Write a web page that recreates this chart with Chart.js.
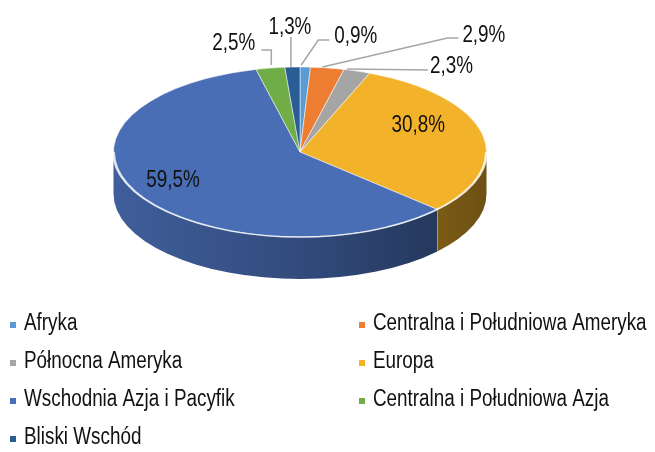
<!DOCTYPE html>
<html>
<head>
<meta charset="utf-8">
<script src="https://cdn.jsdelivr.net/npm/chart.js@4.4.0/dist/chart.umd.min.js"></script>
<style>
  html, body { margin: 0; padding: 0; background: #fff; }
  canvas { display: block; }
</style>
</head>
<body>
<canvas id="pie" width="655" height="452"></canvas>
<script>
// Data
const regions = ['Afryka', 'Centralna i Południowa Ameryka', 'Północna Ameryka', 'Europa',
  'Wschodnia Azja i Pacyfik', 'Centralna i Południowa Azja', 'Bliski Wschód'];
const shares = [0.9, 2.9, 2.3, 30.8, 59.5, 2.5, 1.3];
const sliceColors = ['#5B9BD5', '#ED7D31', '#A5A5A5', '#F2B22A', '#4A6EB6', '#70AD47', '#2A5C96'];

// Label layout, relative to the rim point of each slice (screen px)
const labelLayout = [
  { line: [[-4, -2], [13, -27], [24, -27]], text: [29, -24], align: 'left' },
  { line: [[-5, -1], [120, -30], [131, -30]], text: [135, -26], align: 'left' },
  { line: [[-10, -2], [71, -1]], text: [73, 2], align: 'left' },
  { inside: 0.65, text: [0, -8], align: 'center' },
  { inside: 0.79, text: [0, 1], align: 'center' },
  { line: [[1, -3], [1, -18], [-9, -18]], text: [-15, -18], align: 'right' },
  { line: [[-1.5, 0], [-1.5, -30]], text: [-2.5, -33], align: 'center' }
];

const FONT = '23px "Liberation Sans", Arial, sans-serif';
const NARROW = 0.82;

function fmt(v) {
  return v.toFixed(1).replace('.', ',') + '%';
}

function shade(hex, f) {
  const n = parseInt(hex.slice(1), 16);
  const r = Math.round(((n >> 16) & 255) * f);
  const g = Math.round(((n >> 8) & 255) * f);
  const b = Math.round((n & 255) * f);
  return `rgb(${r},${g},${b})`;
}

function narrowText(ctx, text, x, y, align) {
  ctx.save();
  ctx.translate(x, y);
  ctx.scale(NARROW, 1);
  ctx.font = FONT;
  ctx.textAlign = align;
  ctx.textBaseline = 'alphabetic';
  ctx.fillStyle = '#111';
  ctx.fillText(text, 0, 0);
  ctx.restore();
}

// 3D tilt: squash the pie vertically and add a side wall
const tilt = { cx: 300, cy: 152, ry: 85, depth: 42 };

function geom(chart) {
  const a = chart.getDatasetMeta(0).data[0];
  return { x: a.x, y: a.y, r: a.outerRadius, k: tilt.ry / a.outerRadius };
}

const pie3d = {
  id: 'pie3d',
  beforeDatasetsDraw(chart) {
    const ctx = chart.ctx;
    const g = geom(chart);
    const dz = tilt.depth / g.k;
    ctx.save();
    ctx.translate(tilt.cx, tilt.cy);
    ctx.scale(1, g.k);
    ctx.translate(-g.x, -g.y);

    const arcs = chart.getDatasetMeta(0).data;
    arcs.forEach((arc, i) => {
      const a = Math.max(arc.startAngle, 0);
      const b = Math.min(arc.endAngle, Math.PI);
      if (b <= a) return;
      const grad = ctx.createLinearGradient(g.x - g.r, 0, g.x + g.r, 0);
      grad.addColorStop(0, shade(sliceColors[i], 0.85));
      grad.addColorStop(0.5, shade(sliceColors[i], 0.68));
      grad.addColorStop(1, shade(sliceColors[i], 0.45));
      ctx.beginPath();
      ctx.arc(g.x, g.y, g.r, a, b);
      ctx.arc(g.x, g.y + dz, g.r, b, a, true);
      ctx.closePath();
      ctx.fillStyle = grad;
      ctx.fill();
      // seam
      if (arc.endAngle < Math.PI && arc.endAngle > 0) {
        const ex = g.x + g.r * Math.cos(arc.endAngle);
        const ey = g.y + g.r * Math.sin(arc.endAngle);
        ctx.beginPath();
        ctx.moveTo(ex, ey);
        ctx.lineTo(ex, ey + dz);
        ctx.strokeStyle = 'rgba(255,255,255,0.55)';
        ctx.lineWidth = 1.2;
        ctx.stroke();
      }
    });
  },
  afterDatasetsDraw(chart) {
    const ctx = chart.ctx;
    const g = geom(chart);
    // rim highlight
    ctx.beginPath();
    ctx.arc(g.x, g.y, g.r, 0, Math.PI);
    ctx.strokeStyle = 'rgba(255,255,255,0.75)';
    ctx.lineWidth = 1.4 / g.k;
    ctx.lineWidth = 3;
    ctx.stroke();
    ctx.restore();

    // labels
    const toScreen = (lx, ly) => [tilt.cx + (lx - g.x), tilt.cy + (ly - g.y) * g.k];
    chart.getDatasetMeta(0).data.forEach((arc, i) => {
      const L = labelLayout[i];
      const mid = (arc.startAngle + arc.endAngle) / 2;
      const f = L.inside || 1;
      const [px, py] = toScreen(g.x + g.r * f * Math.cos(mid), g.y + g.r * f * Math.sin(mid));
      if (L.line) {
        ctx.beginPath();
        L.line.forEach(([dx, dy], j) => {
          if (j === 0) ctx.moveTo(px + dx, py + dy);
          else ctx.lineTo(px + dx, py + dy);
        });
        ctx.strokeStyle = '#A6A6A6';
        ctx.lineWidth = 1.5;
        ctx.stroke();
      }
      narrowText(ctx, fmt(shares[i]), px + L.text[0], py + L.text[1], L.align);
    });
  }
};

// Two-column legend
const legendCols = [10, 359];
const legendRows = [330, 368, 406, 444];

const gridLegend = {
  id: 'gridLegend',
  afterDraw(chart) {
    const ctx = chart.ctx;
    regions.forEach((name, i) => {
      const x = legendCols[i % 2];
      const y = legendRows[Math.floor(i / 2)];
      ctx.fillStyle = sliceColors[i];
      ctx.fillRect(x, y - 8, 6, 6);
      narrowText(ctx, name, x + 14, y, 'left');
    });
  }
};

new Chart(document.getElementById('pie'), {
  type: 'pie',
  data: {
    labels: regions,
    datasets: [{
      data: shares,
      backgroundColor: sliceColors,
      borderColor: 'rgba(255,255,255,0.7)',
      borderWidth: 1,
      clip: false
    }]
  },
  options: {
    responsive: false,
    animation: false,
    layout: { padding: { left: 113, right: 168, top: 0, bottom: 78 } },
    plugins: {
      legend: { display: false },
      tooltip: { enabled: false }
    }
  },
  plugins: [pie3d, gridLegend]
});
</script>
</body>
</html>
